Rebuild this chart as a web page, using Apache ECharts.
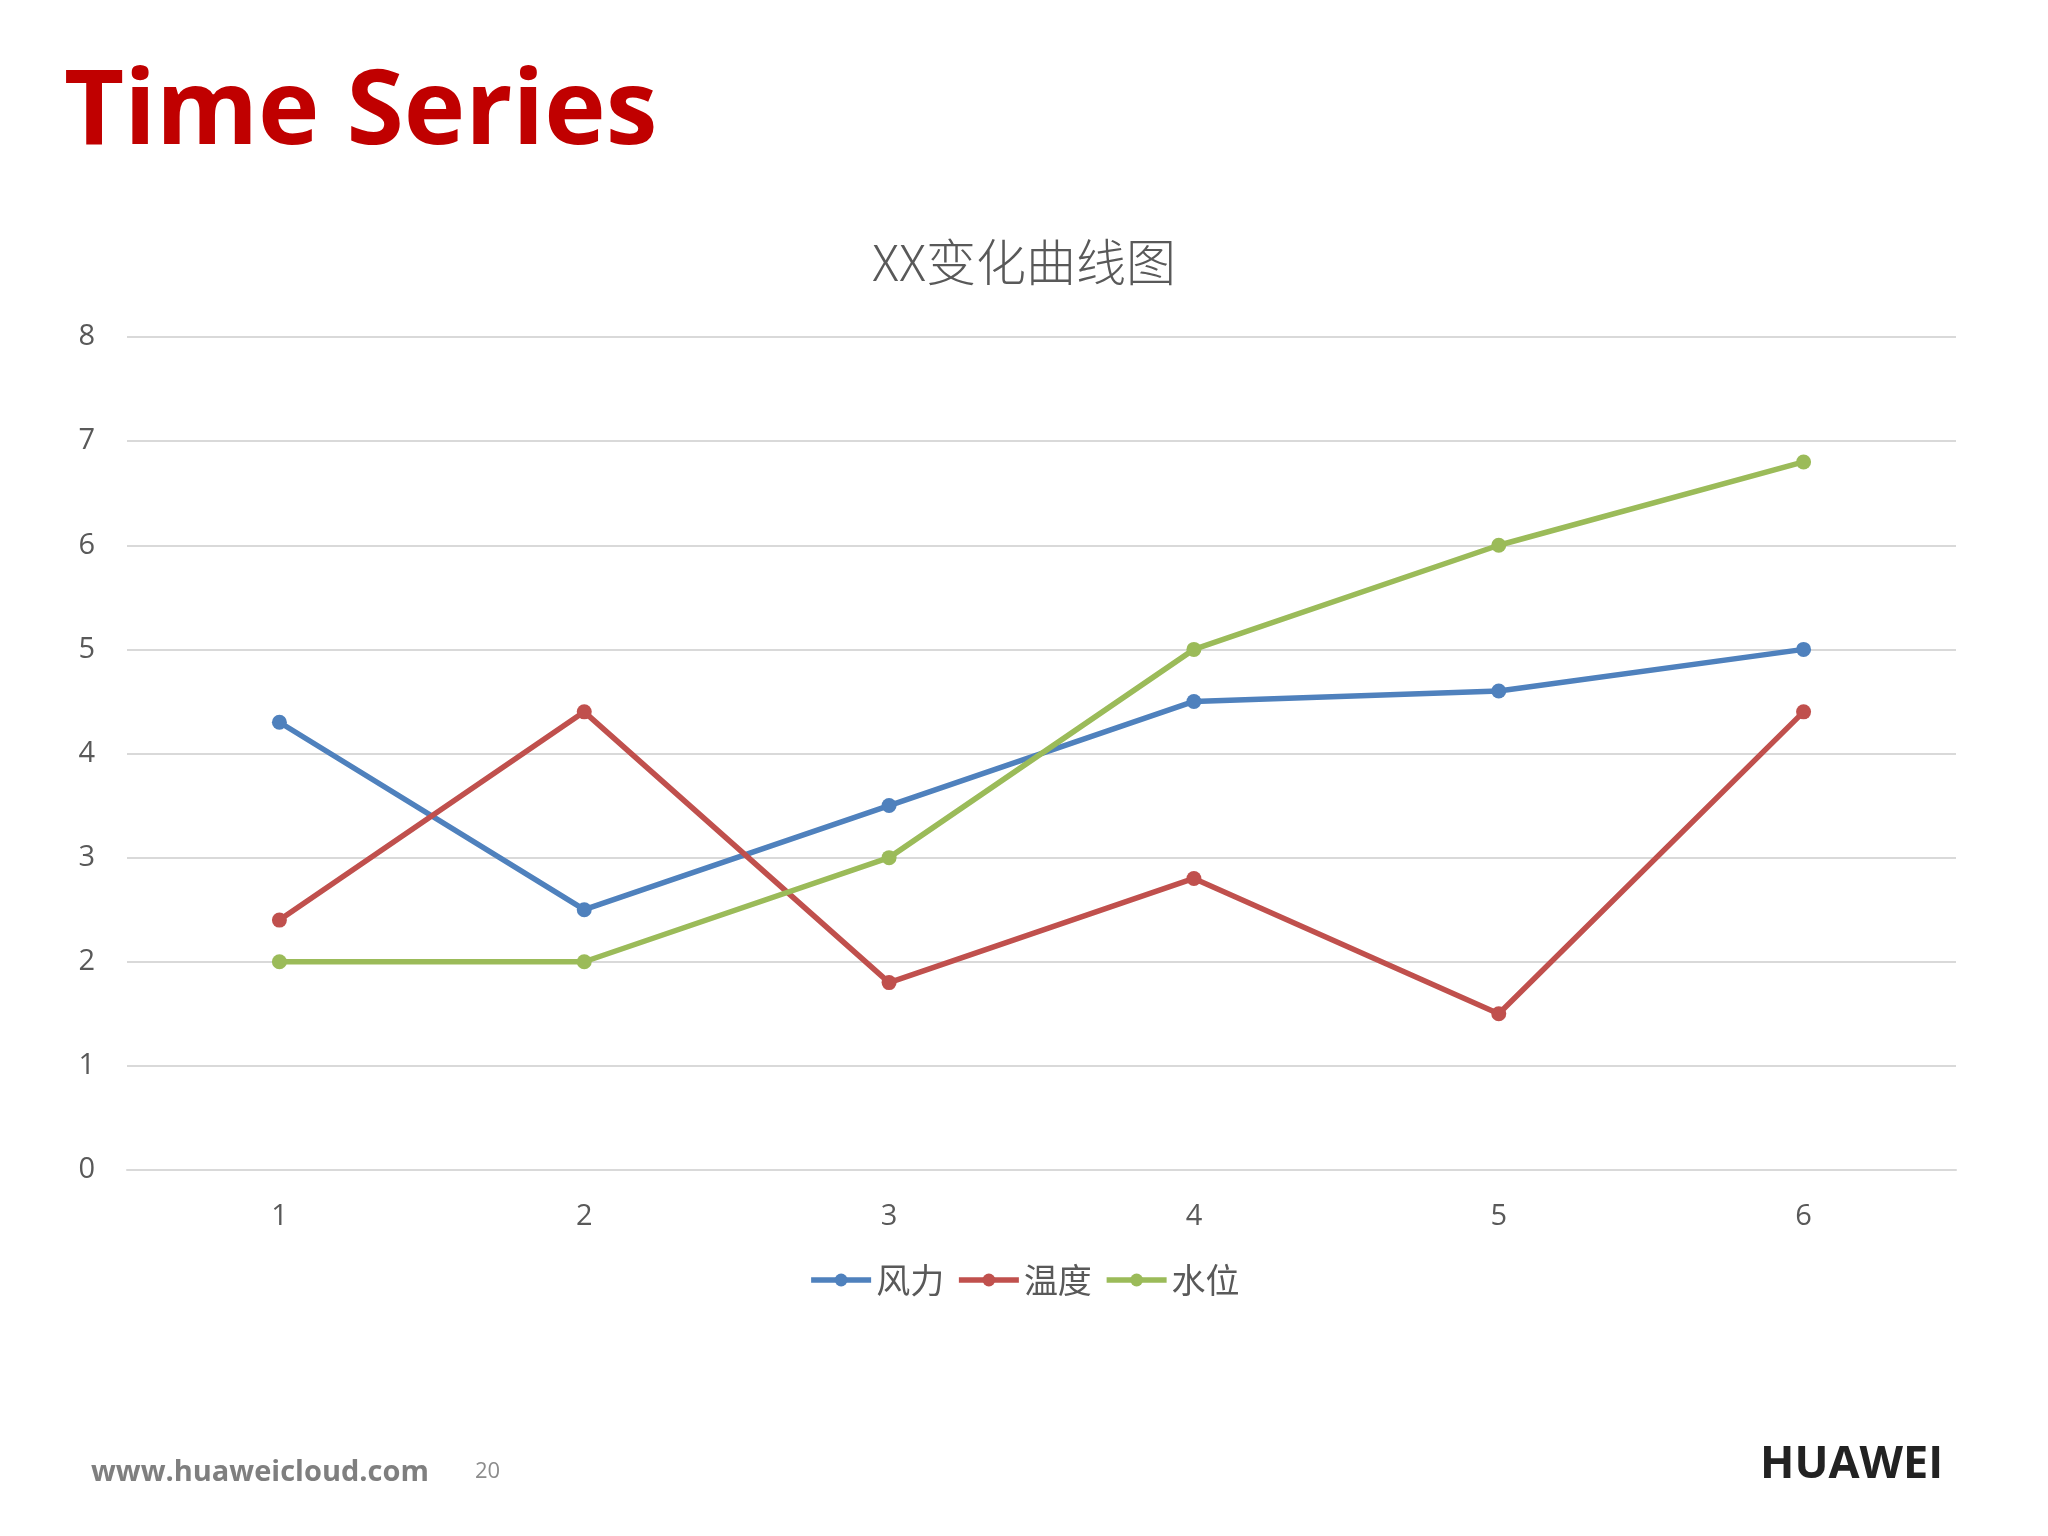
<!DOCTYPE html>
<html><head><meta charset="utf-8">
<script src="https://cdn.jsdelivr.net/npm/echarts@6/dist/echarts.min.js"></script>
<style>html,body{margin:0;padding:0;background:#fff}#c{width:2048px;height:1536px}</style>
</head><body><div id="c"></div>
<script>
const categories = ['1','2','3','4','5','6'];
const windValues = [4.3, 2.5, 3.5, 4.5, 4.6, 5.0];
const tempValues = [2.4, 4.4, 1.8, 2.8, 1.5, 4.4];
const waterValues = [2, 2, 3, 5, 6, 6.8];
const seriesNames = ['风力','温度','水位'];
const colors = ['#4f81bd','#c0504d','#9bbb59'];
const chart = echarts.init(document.getElementById('c'));
const mk = (name, data, color) => ({
  name, type:'line', data, symbol:'circle', symbolSize:15,
  lineStyle:{width:5.5,color}, itemStyle:{color}
});
chart.setOption({
  backgroundColor:'#fff',
  animation:false,
  title:{text:'XX变化曲线图',left:'center',top:232,
    textStyle:{fontFamily:'Noto Sans CJK SC',fontWeight:300,fontSize:50,color:'#595959'}},
  graphic:[
    {type:'text',left:64,top:62,style:{text:'Time Series',fontFamily:'Open Sans',fontWeight:'bold',fontSize:104,fill:'#c00000'}},
    {type:'text',left:91,top:1458,style:{text:'www.huaweicloud.com',fontFamily:'Open Sans',fontWeight:'bold',fontSize:29,fill:'#7f7f7f'}},
    {type:'text',left:475,top:1461,style:{text:'20',fontFamily:'Open Sans',fontSize:22,fill:'#8c8c8c'}},
    {type:'text',left:1760,top:1443,style:{text:'HUAWEI',fontFamily:'Open Sans',fontWeight:'bold',fontSize:45,fill:'#222'}}
  ],
  legend:{bottom:234,left:'center',itemWidth:60,itemHeight:16,itemGap:12,
    lineStyle:{width:5.5},
    textStyle:{fontFamily:'Noto Sans CJK SC',fontSize:34,color:'#595959'},data:seriesNames},
  grid:{left:127,right:92,top:337,bottom:366},
  xAxis:{type:'category',data:categories,boundaryGap:true,
    axisLine:{lineStyle:{color:'#d9d9d9',width:2}},axisTick:{show:false},
    axisLabel:{fontFamily:'Open Sans',fontSize:29,color:'#595959',margin:32}},
  yAxis:{type:'value',min:0,max:8,interval:1,
    axisLine:{show:false},axisTick:{show:false},
    splitLine:{lineStyle:{color:'#d9d9d9',width:2}},
    axisLabel:{fontFamily:'Open Sans',fontSize:29,color:'#595959',margin:32}},
  series:[mk(seriesNames[0],windValues,colors[0]),mk(seriesNames[1],tempValues,colors[1]),mk(seriesNames[2],waterValues,colors[2])]
});
</script></body></html>
